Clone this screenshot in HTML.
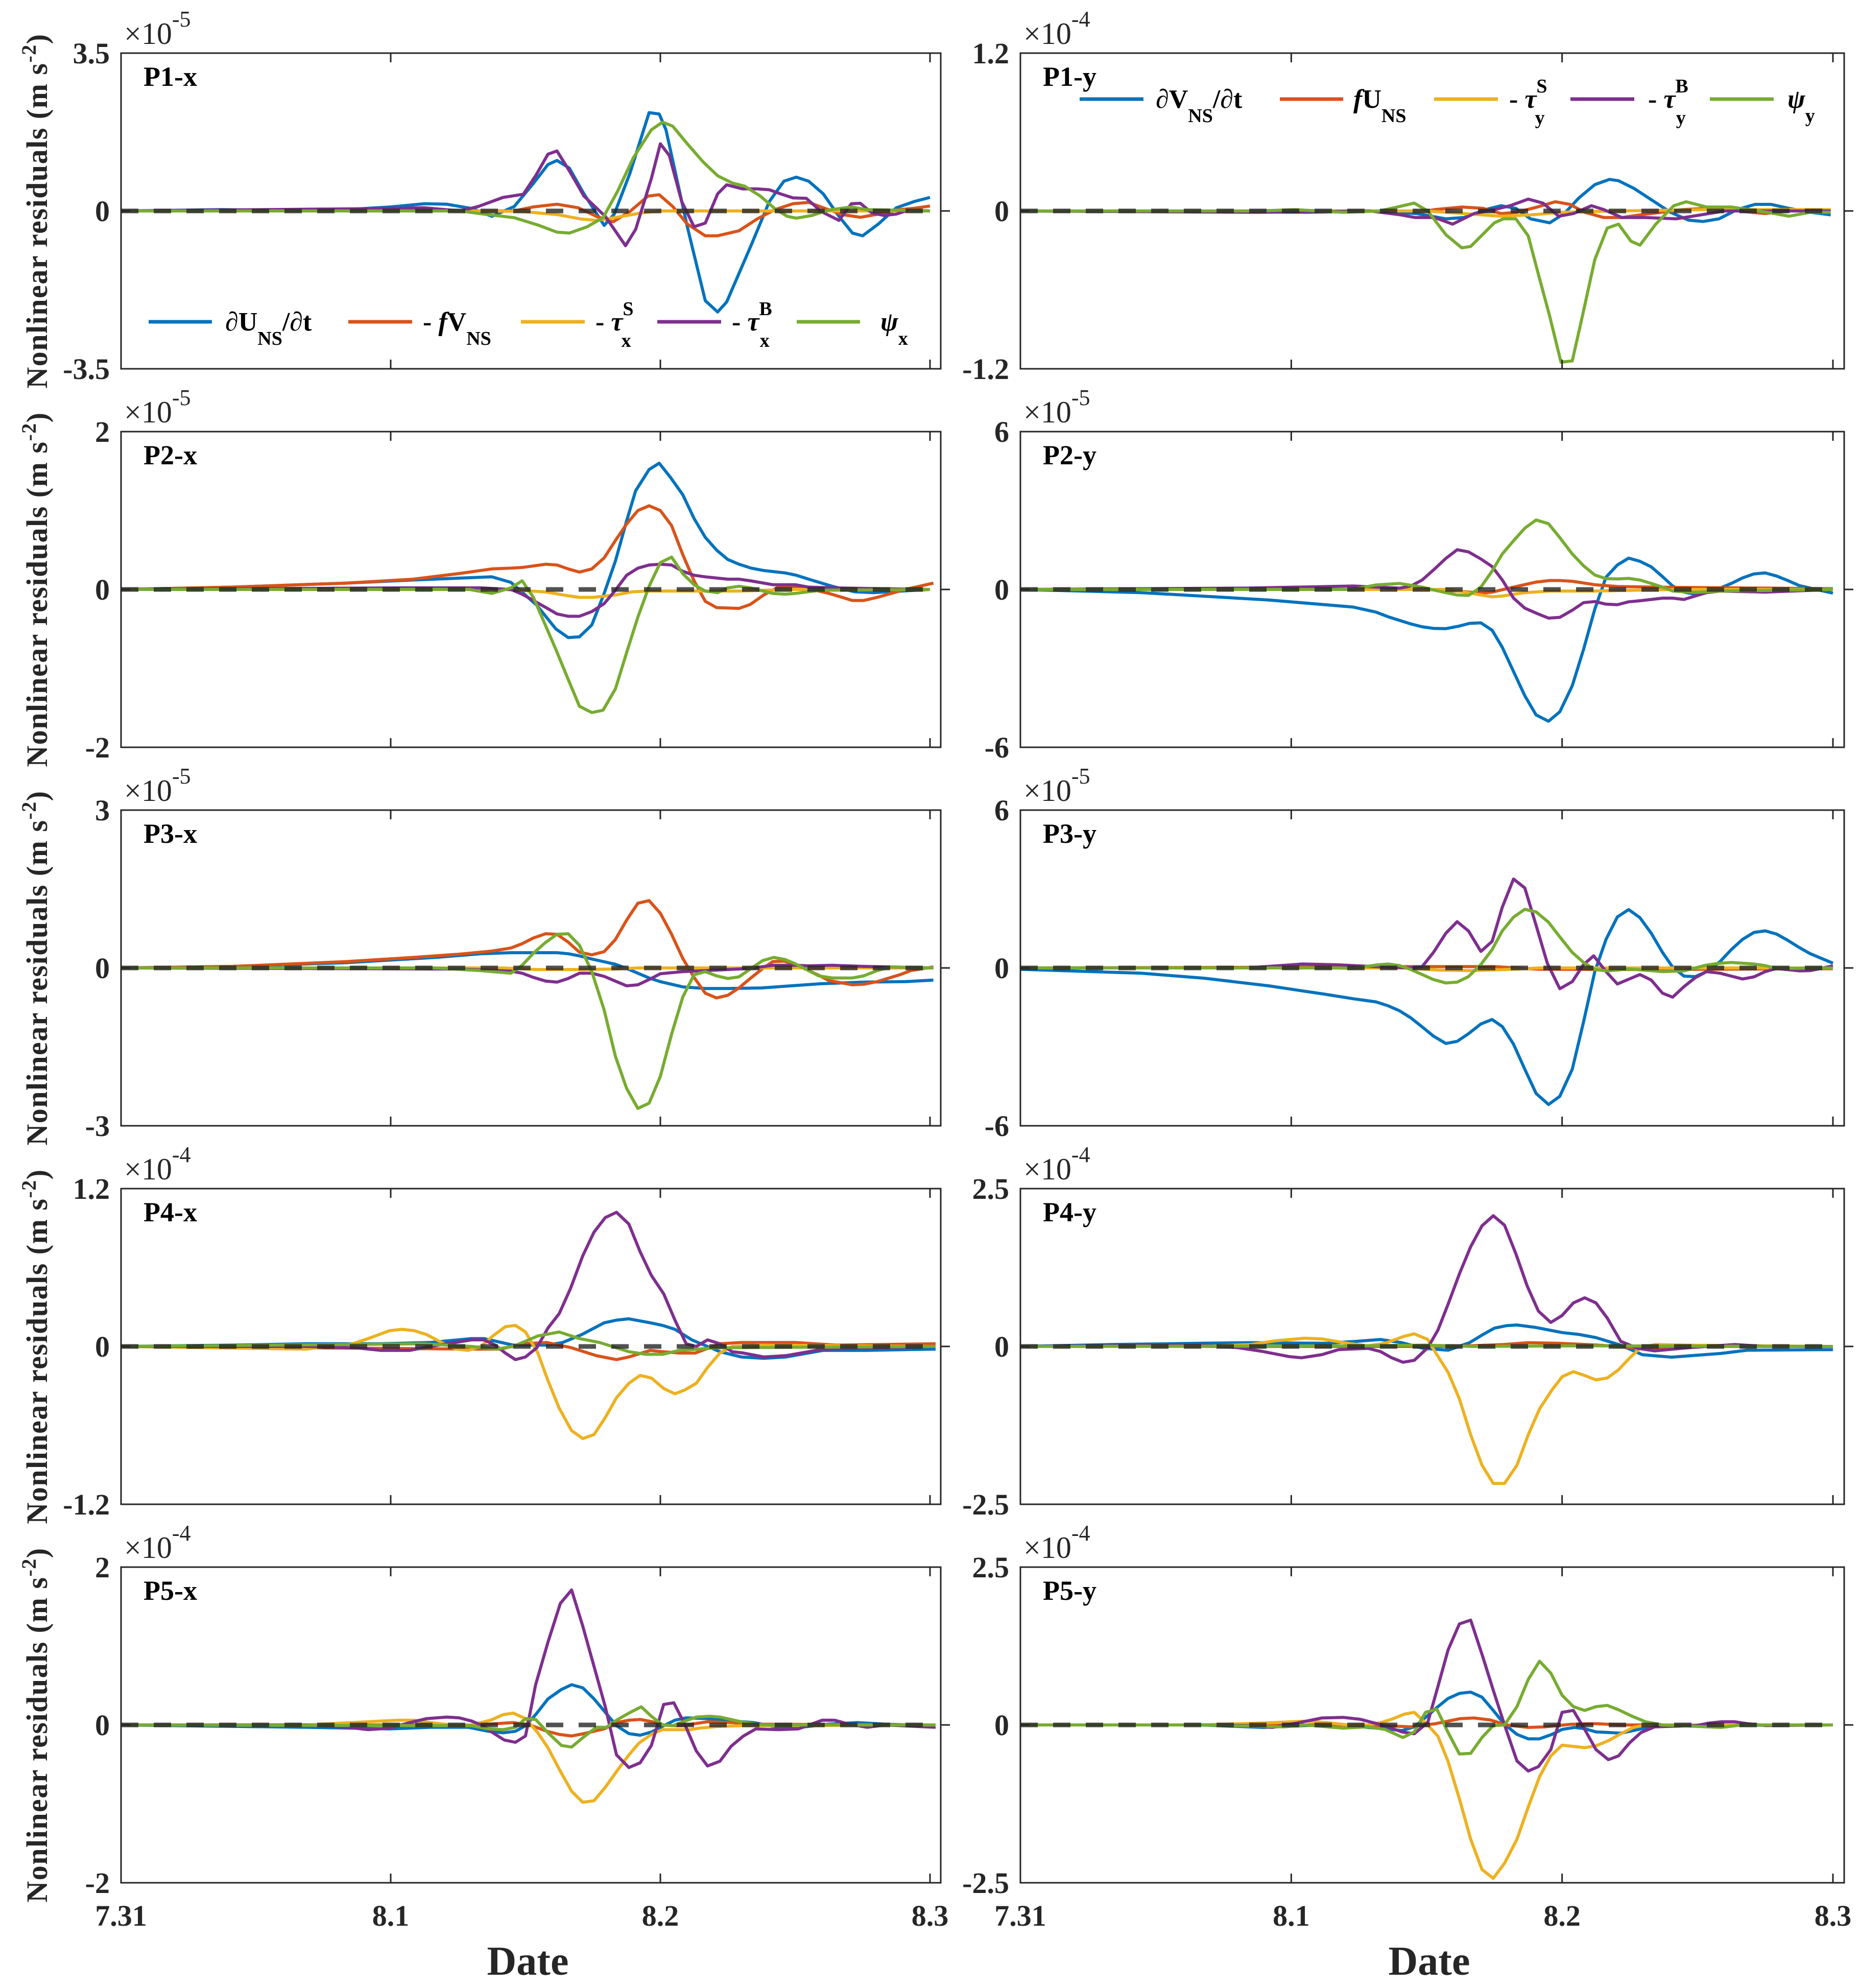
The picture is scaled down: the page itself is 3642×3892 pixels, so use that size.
<!DOCTYPE html>
<html>
<head>
<meta charset="utf-8">
<style>
html,body{margin:0;padding:0;background:#fff;}
svg{display:block;font-family:"Liberation Serif","DejaVu Serif",serif;}
</style>
</head>
<body>
<svg id="fig" xmlns="http://www.w3.org/2000/svg" width="3642" height="3892" viewBox="0 0 3642 3892">
<rect x="0" y="0" width="3642" height="3892" fill="#fff"/>
</svg>
<script>
// ---------- DATA (hours since 7.31 00:00, values in panel units) ----------
const xTickHours = [0, 24, 48, 72];
const xTickLabels = ["7.31", "8.1", "8.2", "8.3"];

// P1-x (x10^-5)
const p1x_dudt_t = [0,9,18,24,27,29,31.3,33,35,36.7,38,38.8,39.9,41.2,43,43.9,45.3,47,47.9,48.5,50.4,52,53.1,53.9,56.1,57.7,59,60.1,61.2,62.5,63.9,65.1,66,67.4,69,70.6,72];
const p1x_dudt_v = [0,0.03,0,0.09,0.16,0.15,0.05,-0.12,0.1,0.61,1.03,1.12,0.95,0.38,-0.32,-0.07,0.84,2.18,2.15,1.8,-0.35,-1.99,-2.24,-2.02,-0.75,0.21,0.66,0.75,0.66,0.38,-0.12,-0.49,-0.55,-0.29,0.07,0.21,0.3];
const p1x_cor_t = [0,35,36.7,38.8,40.7,42.3,43.8,45.3,46.9,47.9,49.1,50.4,52,53.1,55,56.6,58.2,59.8,61.2,62.5,64.2,65.8,67.4,69,70.6,72];
const p1x_cor_v = [0,0,0.09,0.15,0.07,-0.12,-0.24,-0.01,0.33,0.36,0.1,-0.29,-0.55,-0.55,-0.44,-0.18,0.03,0.16,0.19,0.07,-0.08,-0.14,-0.07,0.02,0.06,0.11];
const p1x_ts_t = [0,32.3,35.6,38.8,41,42.3,43.9,46.4,48,72];
const p1x_ts_v = [0,0,-0.01,-0.08,-0.18,-0.21,-0.15,-0.04,0,0];
const p1x_tb_t = [0,21.6,27,30.2,31.8,34,35.8,36.9,38,38.8,39.9,41.2,43.1,44.9,45.8,47.2,48,48.8,49.9,51,52,53.1,53.9,55.3,56.6,57.7,58.8,59.8,61,62.3,63.9,65,65.8,66.8,67.9,69,70.1,72];
const p1x_tb_v = [0,0.05,0.07,0,0.1,0.3,0.37,0.78,1.26,1.33,0.89,0.33,-0.12,-0.77,-0.41,0.72,1.49,1.23,0.21,-0.35,-0.27,0.38,0.58,0.49,0.49,0.47,0.37,0.29,0.28,-0.01,-0.21,0.16,0.17,-0.04,-0.1,-0.07,0.02,0];
const p1x_psi_t = [0,30.2,32.3,35,37.2,38.8,39.9,41.5,42.9,44.2,45.6,47.2,48.2,49.1,50.4,51.8,53.1,54.4,55.5,56.9,58.2,59.3,60.1,61.5,63,65,66.3,68.5,72];
const p1x_psi_v = [0,0,-0.07,-0.15,-0.32,-0.47,-0.49,-0.35,-0.15,0.44,1.18,1.8,1.97,1.88,1.49,1.09,0.78,0.62,0.55,0.33,0.05,-0.12,-0.16,-0.1,0.02,0.09,0.03,0.02,0];

// P1-y (x10^-4)
const p1y_dvdt_t = [0,25.4,31,35.1,37.7,39.3,41.2,42.6,43.9,45.2,46.9,48.2,49.5,50.9,52.2,53,54.4,56,57.6,59.2,60.5,61.9,63.5,65.1,66.5,68.1,70,71.8];
const p1y_dvdt_v = [0,-0.01,0,-0.02,-0.06,-0.05,0.01,0.04,0.02,-0.06,-0.09,-0.02,0.1,0.2,0.24,0.23,0.17,0.08,-0.01,-0.07,-0.08,-0.06,0.01,0.05,0.05,0.02,-0.01,-0.03];
const p1y_cor_t = [0,36,36.7,39.1,41,42.6,44,45.8,47.4,48.7,50,51.7,53.3,54.9,56.8,58.7,60.8,63.5,66,68,71.8];
const p1y_cor_v = [0,0,0.01,0.03,0.02,-0.02,-0.01,0.03,0.07,0.05,-0.01,-0.05,-0.05,-0.03,-0.01,0.01,0.02,0,-0.02,0,0.01];
const p1y_ts_t = [0,36,39.3,42.6,45.2,48,53,60.8,71.8];
const p1y_ts_v = [0,0,-0.02,-0.04,-0.03,-0.01,0,0.01,0.01];
const p1y_tb_t = [0,21,31,33.7,35,36.7,38.3,40.2,42,43.4,45,46.3,47.7,49,50.6,51.7,53.3,55.4,58.1,60.3,62.4,71.8];
const p1y_tb_v = [0,-0.01,0,-0.03,-0.05,-0.05,-0.1,-0.02,0.01,0.04,0.09,0.06,-0.04,-0.02,0.04,0.01,-0.05,-0.05,-0.06,-0.03,0,0];
const p1y_psi_t = [0,21.1,24.3,28.6,31.8,33.4,34.9,36.1,37.7,39.1,39.9,42,42.8,43.9,45,45.8,46.9,47.9,48.9,49.8,50.9,52,53,54.1,54.9,56.3,57.9,59,60.8,63,66.2,68.1,70,71.8];
const p1y_psi_v = [0,0,0.01,-0.01,0,0.03,0.06,0,-0.18,-0.28,-0.27,-0.09,-0.06,-0.06,-0.19,-0.45,-0.8,-1.15,-1.14,-0.8,-0.37,-0.13,-0.1,-0.23,-0.26,-0.1,0.04,0.07,0.03,0.03,-0.01,-0.04,-0.01,-0.01];

// P2-x (x10^-5)
const p2x_dudt_t = [0,10,20,26,33,34.7,37,38.7,39.8,40.8,41.9,43,44,45,45.8,47,47.9,48.9,50,51,52,53,54,55,56.1,57.2,59.1,60.1,61.2,63.3,65.3,67,72];
const p2x_dudt_v = [0,0.03,0.08,0.12,0.16,0.09,-0.2,-0.5,-0.61,-0.6,-0.45,-0.05,0.36,0.87,1.25,1.52,1.6,1.42,1.2,0.9,0.66,0.5,0.38,0.32,0.27,0.24,0.21,0.18,0.13,0.04,-0.03,-0.04,0];
const p2x_cor_t = [0,10,20,26,30,33,34.7,35.8,37.8,38.8,39.8,40.8,41.9,43,44,45,46,47,48,49,50,51,52,53,55,56,57.2,58.5,59.7,61.2,63,65.1,66.1,67.3,69.8,72.3];
const p2x_cor_v = [0,0.03,0.08,0.13,0.2,0.26,0.27,0.28,0.32,0.31,0.26,0.22,0.26,0.4,0.62,0.83,1.0,1.06,1.0,0.81,0.44,0.11,-0.15,-0.23,-0.24,-0.19,-0.07,0.03,0.04,0.01,-0.05,-0.14,-0.14,-0.1,0,0.08];
const p2x_ts_t = [0,34,37.7,39.8,40.8,42,44,45.5,47,55,60,72];
const p2x_ts_v = [0,0,-0.03,-0.08,-0.1,-0.1,-0.07,-0.03,-0.02,-0.02,0,0];
const p2x_tb_t = [0,25,32,34.7,35.7,36.7,37.7,38.8,39.8,40.8,41.9,43,44,45,46,47,48,49,50,51,52,54,55,56,58,60,61.2,63.3,72];
const p2x_tb_v = [0,0.02,0.02,0,-0.06,-0.14,-0.22,-0.31,-0.34,-0.34,-0.28,-0.18,-0.01,0.18,0.27,0.31,0.32,0.31,0.23,0.18,0.16,0.13,0.13,0.11,0.06,0.06,0.03,0.02,0];
const p2x_psi_t = [0,31,33,34.7,35.7,36.7,37.7,38.7,39.8,40.8,41.9,42.9,44,45,46,47,48,49,50,51,52,53.1,54,55,56,58,59.1,60,62.3,72];
const p2x_psi_v = [0,0,-0.05,0.02,0.11,-0.1,-0.43,-0.76,-1.14,-1.48,-1.56,-1.53,-1.26,-0.8,-0.35,0.04,0.34,0.41,0.2,0.06,-0.02,-0.04,0.02,0.04,0.02,-0.05,-0.06,-0.05,-0.01,0];

// P2-y (x10^-5)
const p2y_dvdt_t = [0,10.7,22,27,29.5,31.5,32.6,34.6,35.6,36.6,37.7,38.8,39.8,40.8,41.8,42.7,43.7,44.7,45.7,46.8,47.8,48.9,49.9,50.9,51.9,52.9,53.9,54.9,55.9,56.9,57.8,58.8,59.8,60.8,62,63,64,65,66,67,68,69,70,72];
const p2y_dvdt_v = [0,-0.12,-0.4,-0.58,-0.67,-0.86,-1.04,-1.31,-1.42,-1.48,-1.49,-1.4,-1.29,-1.27,-1.55,-2.2,-3.12,-4.04,-4.77,-5.01,-4.65,-3.66,-2.28,-0.75,0.47,0.93,1.19,1.07,0.86,0.49,0.13,-0.1,-0.18,-0.1,0.05,0.23,0.44,0.59,0.63,0.51,0.34,0.15,0.05,-0.14];
const p2y_cor_t = [0,36,38.7,40.8,41.8,43.7,45.7,46.9,47.8,48.9,50.9,52.9,57.7,72];
const p2y_cor_v = [0,0,-0.06,-0.14,-0.1,0.09,0.28,0.34,0.34,0.31,0.18,0.11,0.08,0.03];
const p2y_ts_t = [0,38,40.8,41.8,42.7,44.7,46.9,50.9,58,72];
const p2y_ts_v = [0,0,-0.21,-0.28,-0.25,-0.12,-0.06,-0.06,0,0];
const p2y_tb_t = [0,20,29.5,31.5,33.6,34.6,35.6,36.6,37.7,38.7,39.7,40.8,41.8,42.7,43.7,44.7,45.7,46.8,47.8,48.9,49.9,50.9,51.9,52.9,53.9,54.9,55.9,56.9,57.8,58.8,59.8,60.8,62,66,72];
const p2y_tb_v = [0,0.05,0.13,0.09,0.05,0.13,0.36,0.74,1.18,1.51,1.43,1.16,0.87,0.36,-0.33,-0.71,-0.9,-1.09,-1.06,-0.79,-0.5,-0.46,-0.56,-0.58,-0.47,-0.43,-0.38,-0.33,-0.33,-0.38,-0.25,-0.12,-0.06,-0.1,0];
const p2y_psi_t = [0,29.5,31.5,33.6,35.6,36.6,37.7,38.7,39.7,40.8,41.8,42.7,43.7,44.7,45.7,46.8,47.8,48.9,49.9,50.9,51.9,52.9,53.9,54.9,55.9,56.9,57.8,59.8,62,72];
const p2y_psi_v = [0,0,0.17,0.23,0.09,-0.02,-0.12,-0.21,-0.23,0.09,0.7,1.35,1.85,2.33,2.64,2.5,1.97,1.35,0.9,0.55,0.41,0.4,0.42,0.36,0.23,0.09,-0.06,-0.11,-0.06,0];

// P3-x (x10^-5)
const p3x_dudt_t = [0,10,20,28,32,34.7,38.8,39.8,40.8,41.9,44,45,46,47,48,50,52,54,57,62.3,66,69.8,72.3];
const p3x_dudt_v = [0,0.03,0.1,0.2,0.27,0.29,0.29,0.27,0.23,0.17,0.07,-0.01,-0.1,-0.19,-0.26,-0.36,-0.39,-0.39,-0.38,-0.3,-0.27,-0.26,-0.23];
const p3x_cor_t = [0,10,20,26,30,33,34.7,35.7,36.7,37.8,38.8,39.8,40.8,41.9,43,44,45,46,47,48,49,50,51,52,53,54,55,56,57,58,59,60,61,62.3,63,65.1,66.1,67.3,69.3,70.3,72.3];
const p3x_cor_v = [0,0.03,0.12,0.2,0.26,0.32,0.38,0.46,0.57,0.65,0.64,0.49,0.3,0.25,0.31,0.54,0.91,1.23,1.28,1.04,0.64,0.18,-0.18,-0.48,-0.57,-0.52,-0.38,-0.2,-0.03,0.12,0.13,0.07,-0.03,-0.16,-0.24,-0.32,-0.31,-0.26,-0.13,-0.05,0.02];
const p3x_ts_t = [0,34,37,41,44,46,72];
const p3x_ts_v = [0,0,-0.03,-0.03,-0.02,0,0];
const p3x_tb_t = [0,30,34.7,35.7,36.7,37.8,38.8,39.8,40.8,41.9,43,44,45,46,47,48,50,52,54,56,58,60,61.2,63.3,66,72.3];
const p3x_tb_v = [0,-0.02,-0.06,-0.1,-0.18,-0.25,-0.27,-0.2,-0.1,-0.1,-0.16,-0.25,-0.34,-0.32,-0.22,-0.11,-0.07,-0.05,-0.03,-0.01,0.05,0.05,0.04,0.05,0.03,0];
const p3x_psi_t = [0,28,32,34.7,35.7,36.7,37.7,38.8,39.8,40.8,41.9,43,44,45,46,47,48,49,50,51,52,53,54,55,56,57.1,58.1,59.1,60,61,62.1,63.3,65.1,66.1,67.3,68.5,72.3];
const p3x_psi_v = [0,0,-0.05,-0.1,0.05,0.28,0.47,0.64,0.65,0.43,-0.07,-0.8,-1.68,-2.29,-2.67,-2.57,-2.06,-1.26,-0.55,-0.13,-0.07,-0.15,-0.2,-0.17,-0.02,0.14,0.2,0.16,0.08,-0.03,-0.15,-0.19,-0.19,-0.15,-0.05,0.02,0];

// P3-y (x10^-5)
const p3y_dvdt_t = [0,10.7,16.3,22,27,29.5,31.5,32.6,33.6,34.6,35.6,36.6,37.7,38.7,39.7,40.8,41.8,42.7,43.7,44.7,45.7,46.8,47.8,48.9,49.9,50.9,51.9,52.9,53.9,54.9,55.9,56.9,57.8,58.8,59.8,60.8,62,63,64,65,66,67,68,69,70,72];
const p3y_dvdt_v = [-0.05,-0.2,-0.39,-0.68,-1.0,-1.17,-1.29,-1.44,-1.63,-1.9,-2.24,-2.59,-2.87,-2.79,-2.5,-2.13,-1.96,-2.23,-2.9,-3.85,-4.77,-5.19,-4.88,-3.85,-2.05,-0.14,1.09,1.94,2.22,1.91,1.32,0.59,0.03,-0.31,-0.33,-0.14,0.24,0.7,1.09,1.35,1.41,1.29,1.05,0.78,0.54,0.18];
const p3y_cor_t = [0,25,30,42,46,55,72];
const p3y_cor_v = [0,0.03,0.05,0.05,-0.05,-0.06,-0.03];
const p3y_ts_t = [0,34,37,40,43,46,72];
const p3y_ts_v = [0,0,-0.08,-0.1,-0.06,0,0];
const p3y_tb_t = [0,20,25,28,29.5,32.6,34.6,35.6,36.6,37.7,38.7,39.7,40.8,41.8,42.7,43.7,44.7,45.7,46.7,47.8,48.9,49.9,50.8,51.9,52.9,53.9,54.9,55.9,56.9,57.8,58.8,59.8,60.8,62,63,64,65,66,67,69,70,72];
const p3y_tb_v = [0,0,0.15,0.12,0.09,0.03,0,0.05,0.59,1.32,1.76,1.41,0.63,1.01,2.31,3.38,3.04,1.62,0.17,-0.79,-0.52,0.13,0.46,-0.14,-0.61,-0.43,-0.25,-0.46,-0.96,-1.11,-0.71,-0.37,-0.14,-0.2,-0.31,-0.42,-0.34,-0.14,-0.02,-0.11,-0.1,0.08];
const p3y_psi_t = [0,28,29.5,31.5,32.6,33.6,34.6,35.6,36.6,37.7,38.7,39.7,40.8,41.8,42.7,43.7,44.7,45.7,46.8,47.8,48.9,49.9,50.9,52,53.9,55.9,56.9,58.8,60.8,62,63,65,66,67,72];
const p3y_psi_v = [0,0,-0.02,0.11,0.15,0.09,-0.06,-0.25,-0.44,-0.57,-0.54,-0.33,0.13,0.7,1.41,1.93,2.23,2.13,1.74,1.18,0.59,0.21,-0.06,-0.11,-0.04,-0.1,-0.14,-0.11,0.11,0.18,0.21,0.15,0.09,-0.02,0];

// P4-x (x10^-4)
const p4x_dudt_t = [0,10,16.5,19.8,23.1,27.5,31.2,32.3,34.9,37.9,39.3,41,43,44.1,45.2,47.1,48.2,49.3,50.8,53.3,55.2,57.2,59.2,62.5,66.2,72.5];
const p4x_dudt_v = [0,0.01,0.02,0.02,0.02,0.03,0.06,0.06,0.01,0.01,0.03,0.09,0.18,0.2,0.21,0.18,0.16,0.13,0.05,-0.04,-0.08,-0.09,-0.08,-0.03,-0.03,-0.02];
const p4x_cor_t = [0,32,33.8,35.7,37.9,40.1,42.3,44.1,45.2,47.1,48.2,49.7,51.1,53.3,55.2,60,63.6,72.5];
const p4x_cor_v = [0,-0.02,-0.02,0.02,0.03,-0.01,-0.07,-0.1,-0.08,-0.03,-0.04,-0.05,-0.05,0.02,0.03,0.03,0.01,0.02];
const p4x_ts_t = [0,16.5,20.6,22,23.9,25,26.1,27.2,28.3,29.8,30.9,32,33.1,34.2,35.1,36,37.1,38,39,40.1,41.1,42.1,43.1,44.1,45.2,46.2,47.2,48.3,49.3,50.2,51.2,52.2,53.3,54.4,56.8,72.5];
const p4x_ts_v = [0,-0.02,0.02,0.06,0.12,0.13,0.12,0.09,0.04,-0.02,-0.03,0,0.08,0.15,0.16,0.11,-0.05,-0.26,-0.47,-0.64,-0.7,-0.67,-0.54,-0.39,-0.28,-0.22,-0.24,-0.32,-0.36,-0.33,-0.28,-0.16,-0.05,0,0.01,0];
const p4x_tb_t = [0,16.5,20.9,23.1,25.7,27.5,31.2,32.3,33.3,34.2,35.1,36,37,38,39,40,41.1,42.1,43.1,44.1,45.2,46.2,47.2,48.3,49.3,50.3,51.2,52.2,53.3,54.4,55.4,57.2,59.2,62.5,72.5];
const p4x_tb_v = [0,0,-0.01,-0.03,-0.03,0,0.05,0.05,0.01,-0.05,-0.1,-0.08,-0.01,0.14,0.25,0.44,0.69,0.87,0.98,1.02,0.93,0.72,0.54,0.4,0.2,0.02,0,0.05,0.02,-0.04,-0.05,-0.08,-0.07,-0.02,0];
const p4x_psi_t = [0,26.8,31.2,33.4,34.9,37.1,39,40.8,42.6,45.2,46.7,48.2,49.7,53,72.5];
const p4x_psi_v = [0,0.02,0,-0.02,0,0.08,0.11,0.06,0.03,-0.04,-0.06,-0.06,-0.03,-0.01,0];

// P4-y (x10^-4)
const p4y_dvdt_t = [0,8,15.9,20.4,27.1,29.7,31.9,33.8,35.7,37.9,39.8,40.9,42,43.1,44,45.7,48,49.5,51,53.2,55.1,57.7,62.1,64.4,72];
const p4y_dvdt_v = [0,0.03,0.05,0.06,0.05,0.08,0.11,0.06,-0.03,-0.06,0.06,0.18,0.29,0.33,0.34,0.3,0.22,0.19,0.14,0.02,-0.13,-0.17,-0.11,-0.06,-0.05];
const p4y_cor_t = [0,38,39.8,42.8,45,47.6,50.2,53.2,54.7,56.3,60,72];
const p4y_cor_v = [0,0,0.01,0.03,0.06,0.05,0.03,0,-0.03,-0.02,0,0];
const p4y_ts_t = [0,15.9,20.4,22.6,25.2,26.7,29,30.8,32.3,34,34.9,36.1,36.8,37.9,38.9,39.9,40.9,41.9,42.9,44,45,46,47.1,48,49,50,51,52,53,54,54.9,56.2,59,72];
const p4y_ts_v = [0,0,0.03,0.09,0.13,0.12,0.05,0.01,0.05,0.16,0.2,0.11,-0.1,-0.41,-0.83,-1.4,-1.88,-2.17,-2.17,-1.88,-1.4,-0.99,-0.69,-0.48,-0.4,-0.46,-0.53,-0.5,-0.37,-0.18,-0.03,0.03,0.02,0];
const p4y_tb_t = [0,15.9,19.3,21.5,23.8,24.9,26.7,28.2,30.8,31.9,32.9,33.9,34.9,36.1,37,37.9,38.9,39.9,40.9,41.9,42.9,43.9,44.9,45.9,47,48,49,50,51,52,53.2,54.7,56.2,59.2,63.3,66,72];
const p4y_tb_v = [0,0.02,-0.02,-0.08,-0.16,-0.18,-0.13,-0.05,-0.03,-0.08,-0.18,-0.25,-0.22,-0.02,0.26,0.67,1.15,1.58,1.91,2.07,1.92,1.47,0.96,0.56,0.38,0.49,0.69,0.77,0.69,0.45,0.08,-0.03,-0.07,-0.02,0.03,0,0];
const p4y_psi_t = [0,30,36,40,50,72];
const p4y_psi_v = [0,0.01,0.02,0,0.01,0];

// P5-x (x10^-4)
const p5x_dudt_t = [0,16.5,23.9,27.5,30.9,32.7,34,35.1,36,36.9,38,39.2,40.1,41.1,42.1,43.1,44.1,45.2,46.2,47.2,48.3,49.3,50.3,52.2,54.4,56.3,58.5,60.5,62.9,65.5,68,72.5];
const p5x_dudt_v = [0,-0.03,-0.05,-0.03,-0.03,-0.08,-0.1,-0.08,-0.01,0.13,0.33,0.45,0.51,0.47,0.33,0.16,-0.01,-0.11,-0.13,-0.09,-0.01,0.06,0.09,0.08,0.05,0.03,-0.03,-0.03,0.01,0.03,0.01,-0.01];
const p5x_cor_t = [0,31,32.7,34.9,36.4,37.9,39,40.1,41.2,43,44.1,45.2,46.2,47.3,48.2,49.3,50.3,52.2,54.4,56.3,72.5];
const p5x_cor_v = [0,0,0.01,0.03,0,-0.08,-0.12,-0.14,-0.11,-0.05,0.03,0.06,0.07,0.04,0,-0.01,0,0.04,0.03,0.01,0];
const p5x_ts_t = [0,16.5,22,24.6,26.1,27.5,29.4,31.2,32.9,34,34.9,36,37.1,38,39,40.1,41.1,42.1,43.1,44.1,45.2,46.1,47.3,48.2,49.3,50.6,51.5,53,55.2,72.5];
const p5x_ts_v = [0,0,0.04,0.06,0.06,0.03,0,0,0.06,0.13,0.15,0.08,-0.1,-0.29,-0.56,-0.84,-0.98,-0.96,-0.79,-0.59,-0.38,-0.23,-0.11,-0.06,-0.06,-0.06,-0.04,-0.02,-0.01,0];
const p5x_tb_t = [0,16.5,20.2,22,23.9,25.7,27.2,29,30.1,31.2,32.2,33.1,34.1,35.1,36,36.9,38,39.1,40.1,41.1,42.1,43.1,44.1,45.2,46.2,47.2,48.3,49.2,50.2,51.2,52.2,53.3,54.3,55.4,56.5,58.5,60.3,62.4,63.5,64.8,66.4,68,72.5];
const p5x_tb_v = [0,0,-0.03,-0.06,-0.04,0.03,0.08,0.1,0.09,0.05,-0.01,-0.1,-0.19,-0.22,-0.14,0.51,1.05,1.54,1.71,1.25,0.74,0.23,-0.38,-0.54,-0.48,-0.26,0.26,0.28,0,-0.33,-0.52,-0.46,-0.27,-0.14,-0.05,-0.06,-0.05,0.06,0.06,0.01,-0.03,0,-0.03];
const p5x_psi_t = [0,31.2,32.7,34,35.1,36,36.9,38,39.2,40.1,41.2,42.3,43.2,44.1,45.2,46.3,47.2,48.2,49.1,50.2,51.2,52.4,53.3,55.2,57,72.5];
const p5x_psi_v = [0,-0.01,-0.05,-0.06,-0.03,0.08,0.07,-0.1,-0.26,-0.28,-0.15,-0.03,-0.03,0.06,0.15,0.23,0.11,0,-0.01,0.05,0.1,0.11,0.1,0.04,0,0];

// P5-y (x10^-4)
const p5y_dvdt_t = [0,15.9,21.5,25.2,28.6,30.8,32.3,33.8,34.9,36.1,37,37.9,38.9,39.9,40.9,41.9,42.9,44,45,46,47.1,48,49.1,50,51,52.1,53.2,54.3,55.8,59,72];
const p5y_dvdt_v = [0,0,-0.04,-0.01,0,-0.04,-0.06,-0.09,-0.03,0.15,0.29,0.42,0.5,0.52,0.44,0.23,0.01,-0.15,-0.22,-0.22,-0.15,-0.07,-0.04,-0.06,-0.11,-0.12,-0.13,-0.09,-0.03,-0.01,0];
const p5y_cor_t = [0,30.8,34.6,36.8,39,40.2,41.6,43.1,45,46.5,48.7,51,53.2,72];
const p5y_cor_v = [0,0,-0.03,0.02,0.1,0.11,0.08,0,-0.04,-0.03,0.01,0.02,0,0];
const p5y_ts_t = [0,15.9,21.5,25.2,27,29,30.8,32,32.9,34,34.9,36.1,37,37.9,38.9,39.9,40.9,41.9,42.9,44,45,46,47,48,49,50,51,52.1,53.2,54.3,55.4,72];
const p5y_ts_v = [0,0,0.03,0.06,0.04,0,0,0.04,0.09,0.17,0.2,0,-0.18,-0.58,-1.17,-1.81,-2.29,-2.43,-2.19,-1.81,-1.3,-0.82,-0.49,-0.32,-0.34,-0.36,-0.33,-0.25,-0.14,-0.04,0,0];
const p5y_tb_t = [0,15.9,20.4,22.3,24.5,26.7,28.6,30.1,31.6,32.7,33.8,34.9,36.1,37,37.9,38.9,39.9,40.9,41.9,42.9,44,45,45.9,47,48,49,50,51,52.1,53,54,55,56.2,59.9,61,62.1,63.3,64.4,66,72];
const p5y_tb_v = [0,0,-0.01,-0.04,0.03,0.11,0.12,0.09,0.02,-0.04,-0.11,-0.14,0.04,0.61,1.19,1.6,1.66,1.12,0.55,0,-0.57,-0.73,-0.66,-0.39,0.2,0.23,-0.07,-0.39,-0.55,-0.49,-0.28,-0.12,-0.03,-0.01,0.03,0.05,0.05,0.02,-0.01,0];
const p5y_psi_t = [0,15.9,23.4,25.2,28.6,30.8,32.3,33.9,34.9,35.9,36.9,37.9,38.9,39.9,40.9,41.9,42.9,44,45,46,47,48,49,50,51,52,53,54.3,55.4,56.9,62.1,63.9,72];
const p5y_psi_v = [0,0,-0.03,0,-0.05,-0.03,-0.07,-0.2,-0.11,0.2,0.25,-0.12,-0.46,-0.45,-0.2,-0.01,0,0.29,0.72,1.01,0.82,0.47,0.29,0.23,0.29,0.31,0.24,0.13,0.05,0,-0.04,0,0];

const panelYMax = [3.5, 1.2, 2, 6, 3, 6, 1.2, 2.5, 2, 2.5];
const panelYMaxLabels = ["3.5", "1.2", "2", "6", "3", "6", "1.2", "2.5", "2", "2.5"];
const panelExponents = ["-5", "-4", "-5", "-5", "-5", "-5", "-4", "-4", "-4", "-4"];
const panelLabels = ["P1-x", "P1-y", "P2-x", "P2-y", "P3-x", "P3-y", "P4-x", "P4-y", "P5-x", "P5-y"];

// ---------- LAYOUT ----------
const NS = "http://www.w3.org/2000/svg";
const svg = document.getElementById("fig");
const COLORS = ["#0072BD", "#D95319", "#EDB120", "#7E2F8E", "#77AC30"];
const SERIES_NAMES = ["dudt", "coriolis", "surface-stress", "bottom-stress", "psi"];
const COLS = [{x0: 237, x1: 1842, x72: 1821}, {x0: 1998, x1: 3611, x72: 3589}];
const ROW_TOP0 = 104, ROW_PITCH = 741, PH = 618;

const panelSeries = [
  [[p1x_dudt_t,p1x_dudt_v],[p1x_cor_t,p1x_cor_v],[p1x_ts_t,p1x_ts_v],[p1x_tb_t,p1x_tb_v],[p1x_psi_t,p1x_psi_v]],
  [[p1y_dvdt_t,p1y_dvdt_v],[p1y_cor_t,p1y_cor_v],[p1y_ts_t,p1y_ts_v],[p1y_tb_t,p1y_tb_v],[p1y_psi_t,p1y_psi_v]],
  [[p2x_dudt_t,p2x_dudt_v],[p2x_cor_t,p2x_cor_v],[p2x_ts_t,p2x_ts_v],[p2x_tb_t,p2x_tb_v],[p2x_psi_t,p2x_psi_v]],
  [[p2y_dvdt_t,p2y_dvdt_v],[p2y_cor_t,p2y_cor_v],[p2y_ts_t,p2y_ts_v],[p2y_tb_t,p2y_tb_v],[p2y_psi_t,p2y_psi_v]],
  [[p3x_dudt_t,p3x_dudt_v],[p3x_cor_t,p3x_cor_v],[p3x_ts_t,p3x_ts_v],[p3x_tb_t,p3x_tb_v],[p3x_psi_t,p3x_psi_v]],
  [[p3y_dvdt_t,p3y_dvdt_v],[p3y_cor_t,p3y_cor_v],[p3y_ts_t,p3y_ts_v],[p3y_tb_t,p3y_tb_v],[p3y_psi_t,p3y_psi_v]],
  [[p4x_dudt_t,p4x_dudt_v],[p4x_cor_t,p4x_cor_v],[p4x_ts_t,p4x_ts_v],[p4x_tb_t,p4x_tb_v],[p4x_psi_t,p4x_psi_v]],
  [[p4y_dvdt_t,p4y_dvdt_v],[p4y_cor_t,p4y_cor_v],[p4y_ts_t,p4y_ts_v],[p4y_tb_t,p4y_tb_v],[p4y_psi_t,p4y_psi_v]],
  [[p5x_dudt_t,p5x_dudt_v],[p5x_cor_t,p5x_cor_v],[p5x_ts_t,p5x_ts_v],[p5x_tb_t,p5x_tb_v],[p5x_psi_t,p5x_psi_v]],
  [[p5y_dvdt_t,p5y_dvdt_v],[p5y_cor_t,p5y_cor_v],[p5y_ts_t,p5y_ts_v],[p5y_tb_t,p5y_tb_v],[p5y_psi_t,p5y_psi_v]]
];

function mk(tag, attrs, parent) {
  const e = document.createElementNS(NS, tag);
  for (const k in attrs) e.setAttribute(k, attrs[k]);
  (parent || svg).appendChild(e);
  return e;
}

function drawPanel(i) {
  const col = COLS[i % 2];
  const row = Math.floor(i / 2);
  const top = ROW_TOP0 + row * ROW_PITCH;
  const ymax = panelYMax[i];
  const xS = h => col.x0 + h * (col.x72 - col.x0) / 72;
  const yS = v => top + PH / 2 - v / ymax * (PH / 2);
  const g = mk("g", {});
  
  

  const seriesG = mk("g", {"clip-path": "url(#clip" + i + ")"}, g);
  const cp = mk("clipPath", {id: "clip" + i}, g);
  mk("rect", {x: col.x0, y: top, width: col.x1 - col.x0, height: PH}, cp);
  panelSeries[i].forEach((s, k) => {
    const ts = s[0], vs = s[1];
    const n = Math.min(ts.length, vs.length);
    let d = "";
    for (let j = 0; j < n; j++) d += (j ? "L" : "M") + xS(ts[j]).toFixed(1) + "," + yS(vs[j]).toFixed(1);
    const p = mk("path", {d: d, fill: "none", stroke: COLORS[k], "stroke-width": 6, "stroke-linejoin": "round", "stroke-linecap": "butt"}, seriesG);
    
    
  });
  const z = mk("line", {x1: xS(0), y1: yS(0), x2: xS(72), y2: yS(0), stroke: "#262626", "stroke-opacity": 0.8, "stroke-width": 9, "stroke-dasharray": "34 30"}, g);
  
  

  const fr = mk("rect", {x: col.x0, y: top, width: col.x1 - col.x0, height: PH, fill: "none", stroke: "#262626", "stroke-width": 3}, g);
  
  

  xTickHours.forEach(h => {
    const x = xS(h);
    mk("line", {x1: x, y1: top, x2: x, y2: top + 18, stroke: "#262626", "stroke-width": 3}, g);
    mk("line", {x1: x, y1: top + PH, x2: x, y2: top + PH - 18, stroke: "#262626", "stroke-width": 3}, g);
  });
  mk("line", {x1: col.x0, y1: yS(0), x2: col.x0 + 18, y2: yS(0), stroke: "#262626", "stroke-width": 3}, g);
  mk("line", {x1: col.x1, y1: yS(0), x2: col.x1 + 18, y2: yS(0), stroke: "#262626", "stroke-width": 3}, g);

  const yLabVals = [ymax, 0, -ymax];
  const yLabTxt = [panelYMaxLabels[i], "0", "-" + panelYMaxLabels[i]];
  yLabVals.forEach((v, k) => {
    const t = mk("text", {x: col.x0 - 22, y: yS(v) + 20, "text-anchor": "end", "font-size": 58, "font-weight": "bold", fill: "#262626"}, g);
    t.textContent = yLabTxt[k];
    
    
  });

  const ex = mk("text", {x: col.x0 + 6, y: top - 18, "font-size": 60, fill: "#262626"}, g);
  
  
  const e1 = mk("tspan", {}, ex); e1.textContent = "×10";
  const e2 = mk("tspan", {dy: -34, "font-size": 44}, ex); e2.textContent = panelExponents[i];

  const pl = mk("text", {x: col.x0 + 44, y: top + 64, "font-size": 54, "font-weight": "bold", fill: "#000"}, g);
  pl.textContent = panelLabels[i];
  
  

  if (i % 2 === 0) {
    const cy = top + PH / 2;
    const yt = mk("text", {x: 0, y: 0, transform: "translate(92," + cy + ") rotate(-90)", "text-anchor": "middle", "font-size": 58, "font-weight": "bold", "letter-spacing": 1.5, fill: "#262626"}, g);
    
    
    const a = mk("tspan", {}, yt); a.textContent = "Nonlinear residuals (m s";
    const b = mk("tspan", {dy: -22, "font-size": 40}, yt); b.textContent = "-2";
    const c = mk("tspan", {dy: 22}, yt); c.textContent = ")";
  }

  if (row === 4) {
    xTickHours.forEach((h, k) => {
      const t = mk("text", {x: xS(h), y: top + PH + 84, "text-anchor": "middle", "font-size": 58, "font-weight": "bold", fill: "#262626"}, g);
      t.textContent = xTickLabels[k];
      
      
    });
    const dt = mk("text", {x: (col.x0 + col.x1) / 2 - 6, y: top + PH + 180, "text-anchor": "middle", "font-size": 80, "font-weight": "bold", fill: "#262626"}, g);
    dt.textContent = "Date";
    
    
  }
}

for (let i = 0; i < 10; i++) drawPanel(i);

function legendEntry(parent, x1, x2, y, color, tx, parts) {
  const g = mk("g", {}, parent);
  
  
  mk("line", {x1: x1, y1: y, x2: x2, y2: y, stroke: color, "stroke-width": 7}, g);
  const t = mk("text", {x: tx, y: y + 17, "font-size": 52, "font-weight": "bold", fill: "#000"}, g);
  parts.forEach(p => {
    const s = mk("tspan", p.a || {}, t);
    s.textContent = p.s;
  });
}
function buildLegend(y, xs, axis) {
  const lg = mk("g", {});
  
  
  const U = axis === "x" ? "U" : "V";
  const O = axis === "x" ? "V" : "U";
  const entries = [
    [{s: "∂" + U}, {s: "NS", a: {dy: 28, "font-size": 38}}, {s: "/∂t", a: {dy: -28}}],
    [{s: axis === "x" ? "- " : ""}, {s: "f", a: {"font-style": "italic"}}, {s: O}, {s: "NS", a: {dy: 28, "font-size": 38}}],
    [{s: "- "}, {s: "τ", a: {"font-style": "italic"}}, {s: "S", a: {dy: -30, "font-size": 38}}, {s: axis, a: {dx: -24, dy: 62, "font-size": 38}}],
    [{s: "- "}, {s: "τ", a: {"font-style": "italic"}}, {s: "B", a: {dy: -30, "font-size": 38}}, {s: axis, a: {dx: -24, dy: 62, "font-size": 38}}],
    [{s: "ψ", a: {"font-style": "italic"}}, {s: axis, a: {dy: 28, "font-size": 38}}]
  ];
  entries.forEach((parts, k) => legendEntry(lg, xs[k][0], xs[k][1], y, COLORS[k], xs[k][2], parts));
}
buildLegend(630, [[291,415,441],[682,807,828],[1020,1145,1166],[1287,1412,1433],[1560,1684,1724]], "x");
buildLegend(194, [[2114,2239,2263],[2506,2630,2650],[2808,2933,2955],[3075,3200,3227],[3348,3473,3500]], "y");
</script>
</body>
</html>
